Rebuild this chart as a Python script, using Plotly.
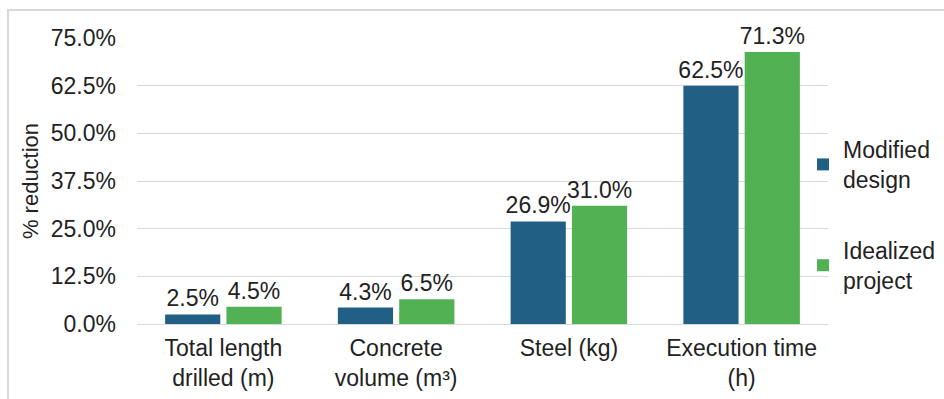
import plotly.graph_objects as go

categories = ["Total length<br>drilled (m)", "Concrete<br>volume (m³)", "Steel (kg)", "Execution time<br>(h)"]
modified = [2.5, 4.3, 26.9, 62.5]
idealized = [4.5, 6.5, 31.0, 71.3]
series_names = ["Modified<br>design", "Idealized<br>project"]
tick_vals = [0, 12.5, 25, 37.5, 50, 62.5, 75]
tick_text = ["0.0%", "12.5%", "25.0%", "37.5%", "50.0%", "62.5%", "75.0%"]

BLUE = "#215F85"
GREEN = "#52B153"
TXT = "#222222"
FONT = "Liberation Sans, Arial, sans-serif"
FS = 23

fig = go.Figure()
for name, vals, col, grp in [(series_names[0], modified, BLUE, "a"), (series_names[1], idealized, GREEN, "b")]:
    fig.add_trace(go.Bar(
        x=categories, y=vals, name=name, legendgroup=grp,
        marker=dict(color=col, line=dict(width=0)),
        text=[f"{v:.1f}%" for v in vals], textposition="outside",
        textfont=dict(size=FS, color=TXT, family=FONT),
        constraintext="none", cliponaxis=False,
    ))

W, H = 944, 399
L, R, T, B = 137, 116, 38, 75
pw, ph = W - L - R, H - T - B

def px_x(x):
    return (x - L) / pw

def px_y(y):
    return (H - B - y) / ph

fig.update_layout(
    width=W, height=H,
    margin=dict(l=L, r=R, t=T, b=B, autoexpand=False),
    paper_bgcolor="white", plot_bgcolor="white",
    font=dict(family=FONT, size=FS, color=TXT),
    barmode="group", bargap=0.29, bargroupgap=0.1,
    showlegend=True,
    legend=dict(
        x=px_x(803), xanchor="left", y=px_y(128), yanchor="top",
        traceorder="grouped", tracegroupgap=38,
        font=dict(size=FS, color=TXT, family=FONT),
        bgcolor="rgba(0,0,0,0)",
    ),
    xaxis=dict(
        showgrid=False, showline=False, zeroline=False, automargin=False,
        ticks="", tickfont=dict(size=FS, color=TXT), ticklabelstandoff=8,
    ),
    yaxis=dict(
        range=[0, 75], tickvals=tick_vals, ticktext=tick_text, automargin=False,
        showgrid=True, gridcolor="#d9d9d9", gridwidth=1,
        zeroline=True, zerolinecolor="#d9d9d9", zerolinewidth=1,
        showline=False, ticks="", ticklabelstandoff=20,
        tickfont=dict(size=FS, color=TXT),
        title=dict(text="% reduction", font=dict(size=22, color=TXT), standoff=6),
    ),
    shapes=[dict(
        type="rect", xref="paper", yref="paper",
        x0=px_x(8), x1=px_x(960), y0=px_y(420), y1=px_y(10),
        line=dict(color="#d9d9d9", width=2), fillcolor="rgba(0,0,0,0)", layer="below",
    )],
)

fig.write_html("out.html")
